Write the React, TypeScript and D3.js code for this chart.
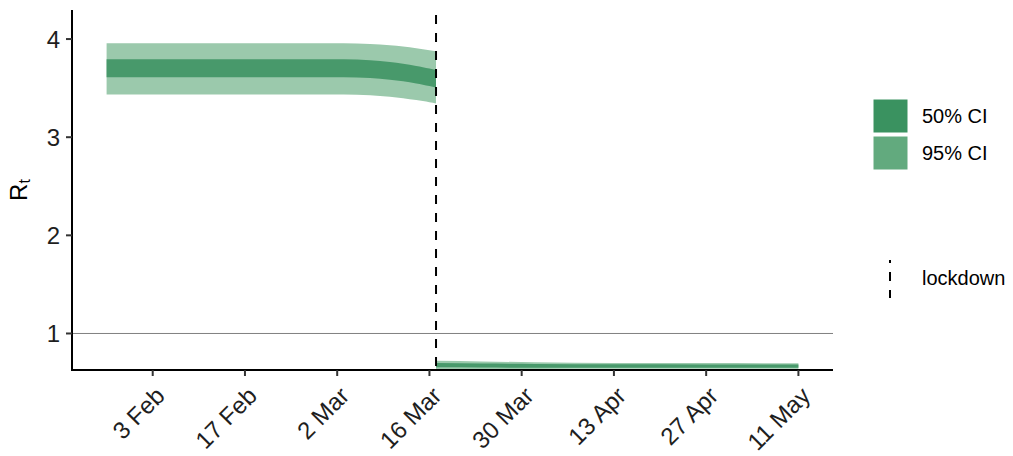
import React from "react";
import * as d3 from "d3";

// ---- data ----
const preDates = ["2020-01-27", "2020-03-03", "2020-03-07", "2020-03-10", "2020-03-12", "2020-03-14", "2020-03-15", "2020-03-16", "2020-03-17"];
const preLo95 = [3.436, 3.436, 3.428, 3.413, 3.398, 3.379, 3.368, 3.357, 3.344];
const preHi95 = [3.956, 3.956, 3.949, 3.936, 3.923, 3.906, 3.896, 3.886, 3.875];
const preLo50 = [3.612, 3.612, 3.603, 3.586, 3.569, 3.547, 3.535, 3.521, 3.507];
const preHi50 = [3.793, 3.793, 3.784, 3.766, 3.748, 3.726, 3.713, 3.699, 3.684];

const postDates = ["2020-03-17", "2020-03-24", "2020-04-01", "2020-04-13", "2020-04-27", "2020-05-11"];
const postLo95 = [0.638, 0.638, 0.639, 0.640, 0.640, 0.640];
const postHi95 = [0.722, 0.715, 0.707, 0.700, 0.698, 0.697];
const postLo50 = [0.655, 0.653, 0.651, 0.650, 0.650, 0.650];
const postHi50 = [0.698, 0.694, 0.690, 0.686, 0.685, 0.684];

const lockdownDate = "2020-03-17";
const xTickDates = ["2020-02-03", "2020-02-17", "2020-03-02", "2020-03-16", "2020-03-30", "2020-04-13", "2020-04-27", "2020-05-11"];
const xTickLabels = ["3 Feb", "17 Feb", "2 Mar", "16 Mar", "30 Mar", "13 Apr", "27 Apr", "11 May"];
const yTicks = [1, 2, 3, 4];
const legendLabels = ["50% CI", "95% CI"];

const W = 1013, H = 456;
const FONT = "'Liberation Sans', Arial, sans-serif";
const C95 = "#9bc9ac";
const C50 = "#48996b";
const L50 = "#3a9260";
const L95 = "#62aa7e";
const TXT = "#1e1e1e";

const parse = (s: string) => new Date(s + "T00:00:00Z");

export default function App() {
  const left = 72, right = 833, top = 10, bottom = 370;
  const dMin = parse("2020-01-27").getTime();
  const dMax = parse("2020-05-11").getTime();
  const pad = (dMax - dMin) * 0.05;
  const x = d3.scaleUtc().domain([new Date(dMin - pad), new Date(dMax + pad)]).range([left, right]);
  const y = d3.scaleLinear().domain([0.633, 4.296]).range([369.5, top]);

  type Row = { d: Date; lo: number; hi: number };
  const mk = (dates: string[], lo: number[], hi: number[]): Row[] => dates.map((s, i) => ({ d: parse(s), lo: lo[i], hi: hi[i] }));
  const area = d3.area<Row>().x((r) => x(r.d)).y0((r) => y(r.lo)).y1((r) => y(r.hi)).curve(d3.curveMonotoneX);

  const bands = [
    { rows: mk(preDates, preLo95, preHi95), fill: C95 },
    { rows: mk(preDates, preLo50, preHi50), fill: C50 },
    { rows: mk(postDates, postLo95, postHi95), fill: C95 },
    { rows: mk(postDates, postLo50, postHi50), fill: C50 },
  ];

  const lx = x(parse(lockdownDate));
  const tickLen = 6;

  return (
    <svg width={W} height={H} style={{ position: "absolute", left: 0, top: 0, background: "#fff" }} fontFamily={FONT}>
      <rect x={0} y={0} width={W} height={H} fill="#fff" />
      {/* reference line at 1 */}
      <line x1={left} x2={right} y1={y(1)} y2={y(1)} stroke="#808080" strokeWidth={1} />
      {bands.map((b, i) => (
        <path key={i} d={area(b.rows) || ""} fill={b.fill} />
      ))}
      {/* lockdown */}
      <line x1={lx} x2={lx} y1={top} y2={bottom} stroke="#000" strokeWidth={2} strokeDasharray="9 9" strokeDashoffset={13} />
      {/* axes */}
      <line x1={left} x2={left} y1={top} y2={bottom + 1} stroke="#000" strokeWidth={2} />
      <line x1={left - 1} x2={right} y1={bottom} y2={bottom} stroke="#000" strokeWidth={2} />
      {yTicks.map((t) => (
        <g key={t}>
          <line x1={left - tickLen} x2={left} y1={y(t)} y2={y(t)} stroke="#333" strokeWidth={2} />
          <text x={60} y={y(t)} dy="0.36em" textAnchor="end" fontSize={24} fill={TXT}>{t}</text>
        </g>
      ))}
      {xTickDates.map((s, i) => {
        const tx = x(parse(s));
        const ax = tx + 1, ay = 385;
        return (
          <g key={s}>
            <line x1={tx} x2={tx} y1={bottom} y2={bottom + tickLen} stroke="#333" strokeWidth={2} />
            <text x={ax} y={ay} dy="0.73em" textAnchor="end" fontSize={24} fill={TXT} transform={`rotate(-45, ${ax}, ${ay})`}>{xTickLabels[i]}</text>
          </g>
        );
      })}
      {/* y title */}
      <text transform="translate(27, 190) rotate(-90)" textAnchor="middle" fontSize={24} fill="#000">
        R<tspan fontSize={16} dy={3}>t</tspan>
      </text>
      {/* legend */}
      <rect x={873} y={99} width={35} height={34} fill={L50} stroke="#fff" strokeWidth={1} />
      <rect x={873} y={136} width={35} height={34} fill={L95} stroke="#fff" strokeWidth={1} />
      <text x={922} y={116} dy="0.36em" fontSize={20} fill="#000">{legendLabels[0]}</text>
      <text x={922} y={153} dy="0.36em" fontSize={20} fill="#000">{legendLabels[1]}</text>
      <line x1={890} x2={890} y1={260} y2={298} stroke="#000" strokeWidth={2} strokeDasharray="9 9" strokeDashoffset={6} />
      <text x={922} y={278} dy="0.36em" fontSize={20} fill="#000">lockdown</text>
    </svg>
  );
}
